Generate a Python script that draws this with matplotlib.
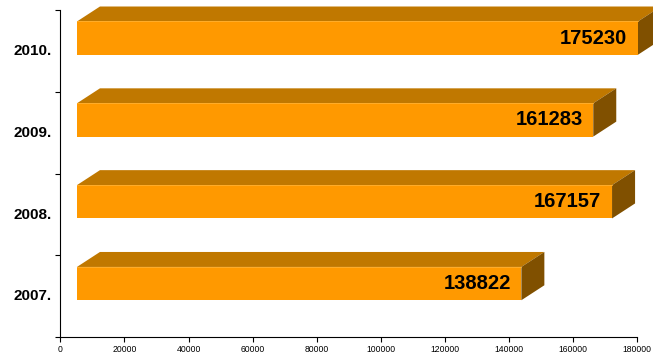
import matplotlib.pyplot as plt
from matplotlib.patches import Polygon

plt.rcParams['font.family'] = ['Liberation Sans', 'DejaVu Sans']

# Données
years = ['2007.', '2008.', '2009.', '2010.']
values = [138822, 167157, 161283, 175230]

# Couleurs des faces
front_col = '#FF9900'
top_col = '#C07800'
side_col = '#805000'

fig = plt.figure(figsize=(6.53, 3.58), dpi=100)
ax = fig.add_axes([0.0926, 0.0578, 0.8824, 0.9142])

x_shift = 5150   # décalage de la face avant
dx = 7190        # profondeur en x
dy = 0.183       # profondeur en y
y_lo, y_hi = 0.453, 0.86

for i, v in enumerate(values):
    x0 = x_shift
    x1 = x_shift + v
    b = i + y_lo
    t = i + y_hi
    ax.add_patch(Polygon([(x0, t), (x0 + dx, t + dy), (x1 + dx, t + dy), (x1, t)],
                         closed=True, facecolor=top_col, edgecolor='none', clip_on=False))
    ax.add_patch(Polygon([(x1, b), (x1 + dx, b + dy), (x1 + dx, t + dy), (x1, t)],
                         closed=True, facecolor=side_col, edgecolor='none', clip_on=False))
    ax.add_patch(Polygon([(x0, b), (x1, b), (x1, t), (x0, t)],
                         closed=True, facecolor=front_col, edgecolor='none', clip_on=False))
    ax.plot([x0, x1], [t, t], color='#FFB030', lw=0.6, clip_on=False)
    ax.text(x1 - 3300, (b + t) / 2, str(v), ha='right', va='center',
            fontsize=14.5, fontweight='bold', color='black')

ax.set_xlim(0, 180000)
ax.set_ylim(0, 4)
ax.set_xticks(range(0, 180001, 20000))
ax.set_xticklabels([str(x) for x in range(0, 180001, 20000)], fontsize=6.2)
ax.set_yticks([0, 1, 2, 3, 4])
ax.set_yticklabels([])
for i, y in enumerate(years):
    ax.text(-2700, i + 0.5, y, ha='right', va='center', fontsize=11, fontweight='bold')

ax.spines['top'].set_visible(False)
ax.spines['right'].set_visible(False)
ax.tick_params(axis='both', length=3.5, width=0.8, direction='out')
ax.tick_params(axis='x', pad=2)

plt.savefig('out.png', dpi=100)
